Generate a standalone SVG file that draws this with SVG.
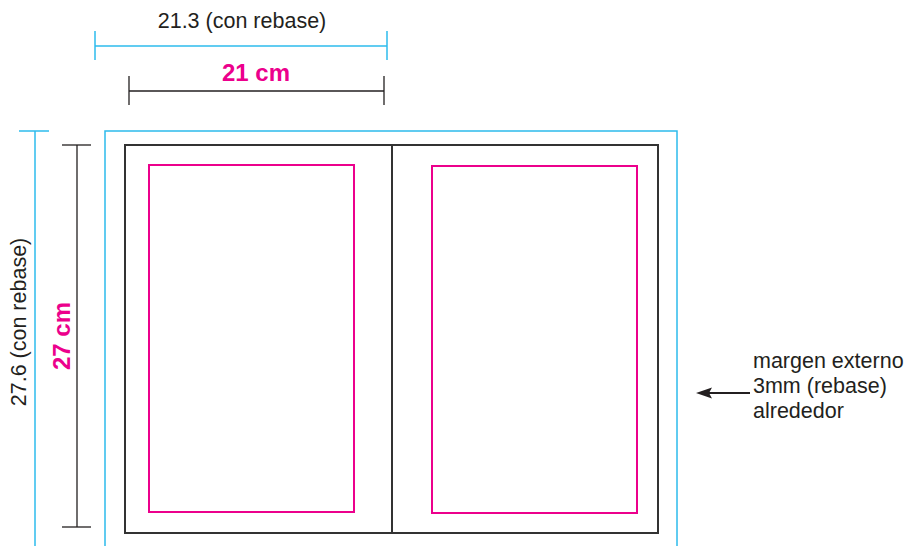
<svg xmlns="http://www.w3.org/2000/svg" width="905" height="546" viewBox="0 0 905 546">
<defs>
<style>
.cy{stroke:#2cbbec;stroke-width:1.5;fill:none}
.bk{stroke:#231f20;stroke-width:1.3;fill:none}
.pg{stroke:#333;stroke-width:2;fill:none}
.mg{stroke:#ec008c;stroke-width:2;fill:none}
.t{font-family:"Liberation Sans",Arial,sans-serif;font-size:21.5px;fill:#231f20}
.tm{font-family:"Liberation Sans",Arial,sans-serif;font-size:24px;font-weight:bold;fill:#ec008c}
</style>
</defs>
<rect width="905" height="546" fill="#fff"/>
<g id="page">
<rect class="cy" x="105" y="131" width="572" height="430"/>
<rect class="pg" x="125" y="145" width="533" height="388"/>
<line class="pg" x1="392" y1="145" x2="392" y2="533"/>
<rect class="mg" x="149" y="165" width="205" height="347"/>
<rect class="mg" x="432" y="166" width="205" height="347"/>
</g>
<g id="connectors">
<line class="cy" x1="95" y1="46" x2="387" y2="46"/>
<line class="cy" x1="95" y1="31" x2="95" y2="60"/>
<line class="cy" x1="387" y1="31" x2="387" y2="60"/>
<line class="bk" x1="129" y1="91" x2="384" y2="91"/>
<line class="bk" x1="129" y1="76" x2="129" y2="105"/>
<line class="bk" x1="384" y1="76" x2="384" y2="105"/>
<line class="cy" x1="35" y1="131" x2="35" y2="546"/>
<line class="cy" x1="19" y1="131" x2="49" y2="131"/>
<line class="bk" x1="77" y1="145" x2="77" y2="527"/>
<line class="bk" x1="62" y1="145" x2="91" y2="145"/>
<line class="bk" x1="62" y1="527" x2="91" y2="527"/>
<line x1="750" y1="393" x2="708" y2="393" stroke="#231f20" stroke-width="2"/>
<path d="M696,393 L712,387.5 L709,393 L712,398.5 Z" fill="#231f20"/>
</g>
<g id="labels">
<text class="t" x="242" y="28" text-anchor="middle">21.3 (con rebase)</text>
<text class="tm" x="256" y="81" text-anchor="middle">21 cm</text>
<text class="t" transform="translate(26,322) rotate(-90)" text-anchor="middle">27.6 (con rebase)</text>
<text class="tm" transform="translate(70,336) rotate(-90)" text-anchor="middle">27 cm</text>
<text class="t" x="753" y="368">margen externo</text>
<text class="t" x="753" y="393">3mm (rebase)</text>
<text class="t" x="753" y="418">alrededor</text>
</g>
</svg>
